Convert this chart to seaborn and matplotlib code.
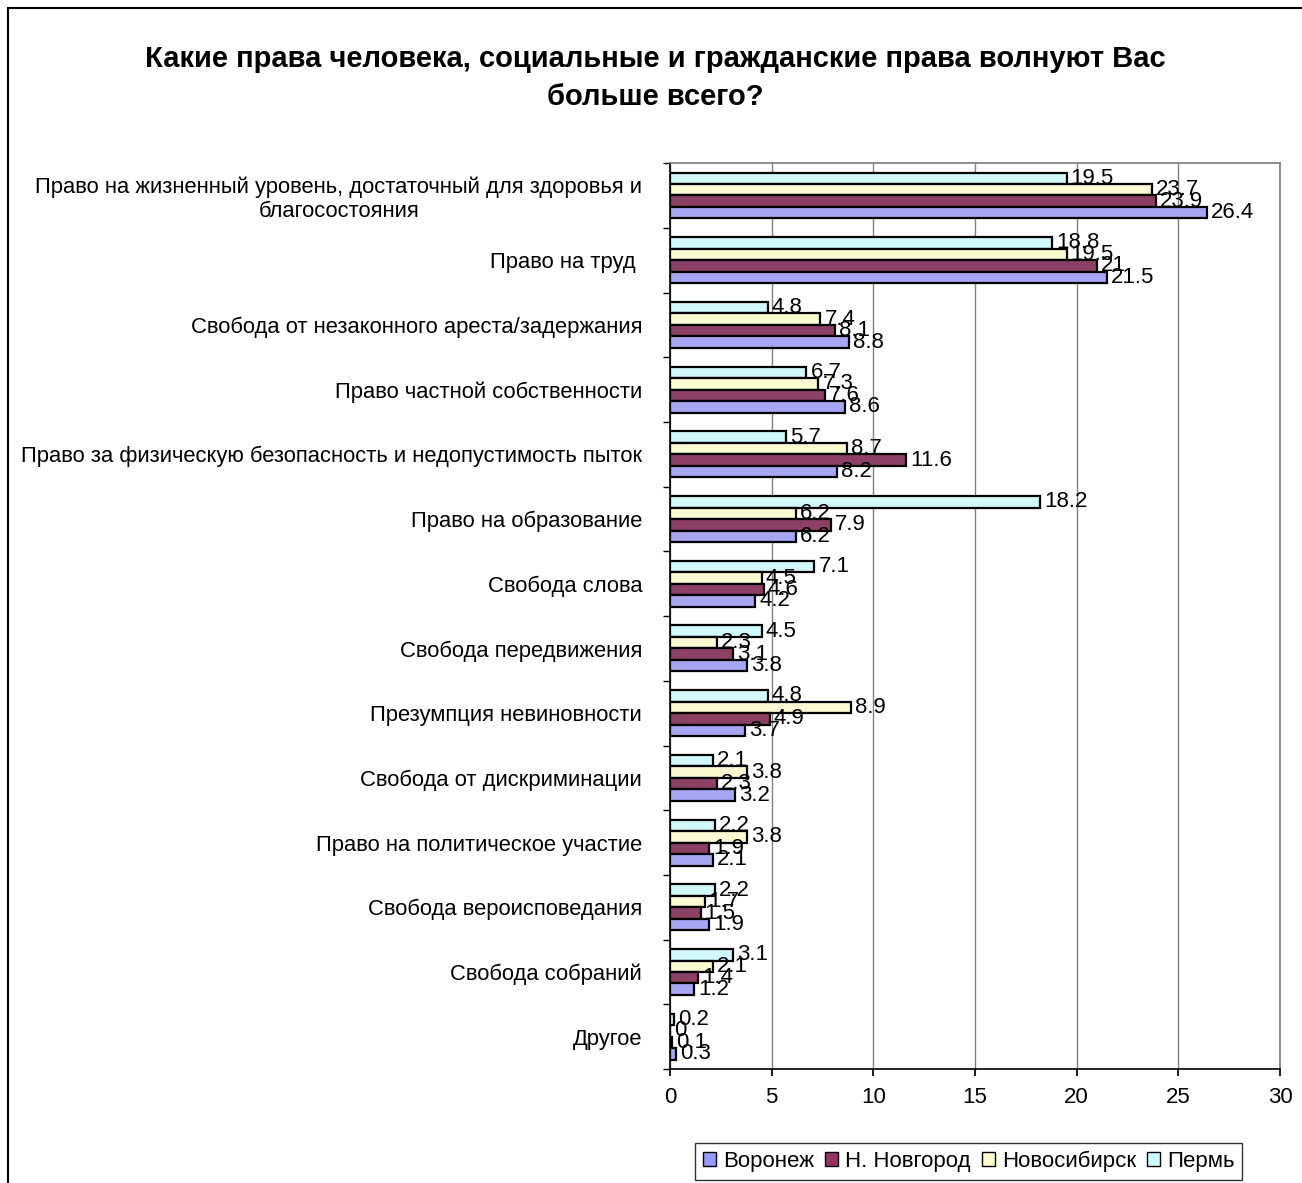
import pandas as pd
import numpy as np
import matplotlib
matplotlib.use("Agg")
import matplotlib.pyplot as plt
import seaborn as sns
from matplotlib.patches import Patch, Rectangle

# ---- data ----
categories = [
    "Право на жизненный уровень, достаточный для здоровья и\nблагосостояния",
    "Право на труд ",
    "Свобода от незаконного ареста/задержания",
    "Право частной собственности",
    "Право за физическую безопасность и недопустимость пыток",
    "Право на образование",
    "Свобода слова",
    "Свобода передвижения",
    "Презумпция невиновности",
    "Свобода от дискриминации",
    "Право на политическое участие",
    "Свобода вероисповедания",
    "Свобода собраний",
    "Другое",
]
voronezh = [26.4, 21.5, 8.8, 8.6, 8.2, 6.2, 4.2, 3.8, 3.7, 3.2, 2.1, 1.9, 1.2, 0.3]
n_novgorod = [23.9, 21, 8.1, 7.6, 11.6, 7.9, 4.6, 3.1, 4.9, 2.3, 1.9, 1.5, 1.4, 0.1]
novosibirsk = [23.7, 19.5, 7.4, 7.3, 8.7, 6.2, 4.5, 2.3, 8.9, 3.8, 3.8, 1.7, 2.1, 0]
perm = [19.5, 18.8, 4.8, 6.7, 5.7, 18.2, 7.1, 4.5, 4.8, 2.1, 2.2, 2.2, 3.1, 0.2]

cities = ["Воронеж", "Н. Новгород", "Новосибирск", "Пермь"]
colors = {"Воронеж": "#9999FF", "Н. Новгород": "#993366",
          "Новосибирск": "#FFFFCC", "Пермь": "#CCFFFF"}

rows = []
for city, vals in zip(cities, [voronezh, n_novgorod, novosibirsk, perm]):
    for cat, v in zip(categories, vals):
        rows.append({"cat": cat, "city": city, "value": v})
df = pd.DataFrame(rows)

# ---- plot ----
sns.set_theme(style="white")
plt.rcParams['font.family'] = ['Liberation Sans', 'DejaVu Sans']
plt.rcParams['text.color'] = 'black'
plt.rcParams['xtick.color'] = 'black'
plt.rcParams['ytick.color'] = 'black'

fig = plt.figure(figsize=(13.02, 11.83), dpi=100)
ax = fig.add_axes([0.5146, 0.0963, 0.4685, 0.7658])

draw_order = ["Пермь", "Новосибирск", "Н. Новгород", "Воронеж"]
sns.barplot(data=df, y="cat", x="value", hue="city", hue_order=draw_order,
            order=categories, orient="h", palette=colors, width=0.71,
            edgecolor="black", linewidth=1.6, ax=ax, legend=False)

for cont in ax.containers:
    labels = [("%g" % b.get_width()) for b in cont]
    ax.bar_label(cont, labels=labels, padding=3, fontsize=16, color="black")

ax.set_xlim(0, 30)
ax.set_xticks(range(0, 31, 5))
ax.set_ylim(len(categories) - 0.5, -0.5)
ax.xaxis.grid(True, color="#808080", linewidth=1)
ax.set_axisbelow(True)
ax.set_xlabel("")
ax.set_ylabel("")
ax.tick_params(axis="x", labelsize=16, length=5, direction="out", color="black", bottom=True, pad=8)
ax.tick_params(axis="y", labelsize=15.8, length=0, pad=20)
ax.set_yticks(np.arange(-0.5, len(categories), 1), minor=True)
ax.tick_params(axis="y", which="minor", length=5, direction="out", color="black", left=True)
for lbl in ax.get_yticklabels():
    lbl.set_multialignment("center")

for side in ["left", "bottom"]:
    ax.spines[side].set_color("black")
    ax.spines[side].set_linewidth(1.2)
for side in ["top", "right"]:
    ax.spines[side].set_color("#808080")

fig.text(0.503, 0.934, "Какие права человека, социальные и гражданские права волнуют Вас\nбольше всего?",
         ha="center", va="center", fontsize=21, fontweight="bold", linespacing=1.45)

handles = [Patch(facecolor=colors[c], edgecolor="black", label=c) for c in cities]
leg = fig.legend(handles=handles, loc="center", bbox_to_anchor=(0.744, 0.0185), ncol=4,
                 fontsize=16, frameon=True, fancybox=False, edgecolor="black",
                 handlelength=0.6, handleheight=0.6, handletextpad=0.3, columnspacing=0.5,
                 borderpad=0.35)
leg.get_frame().set_linewidth(1)

fig.patches.append(Rectangle((8 / 1302, -0.05), 1.2, 1.05 - 8 / 1183, transform=fig.transFigure,
                             fill=False, edgecolor="black", linewidth=1.5))

fig.savefig("out.png", dpi=100)
plt.close(fig)
